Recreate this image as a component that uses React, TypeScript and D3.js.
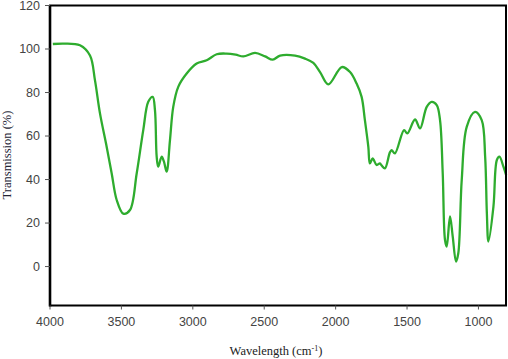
import React from "react";
import * as d3 from "d3";

const wavenumbers = [3980, 3900, 3790, 3720, 3685, 3650, 3603, 3568, 3533, 3487, 3440, 3393, 3347, 3312, 3281, 3265, 3253, 3242, 3218, 3202, 3183, 3160, 3137, 3102, 3043, 2973, 2903, 2833, 2763, 2700, 2646, 2564, 2494, 2440, 2389, 2284, 2214, 2156, 2109, 2051, 1957, 1899, 1853, 1818, 1795, 1771, 1760, 1741, 1713, 1690, 1678, 1655, 1620, 1608, 1585, 1521, 1498, 1444, 1409, 1362, 1327, 1292, 1269, 1250, 1234, 1222, 1199, 1180, 1157, 1141, 1117, 1082, 1024, 977, 953, 941, 930, 895, 871, 853, 825, 806];
const transmission = [102.3, 102.5, 101.7, 97, 85.6, 70.4, 55, 42.8, 30.6, 24.3, 26, 42.8, 62.7, 75.7, 78, 71.9, 50.5, 45.9, 50.5, 48.2, 43.6, 58, 73.4, 82.6, 88.7, 93.3, 94.8, 97.6, 97.9, 97.4, 96.6, 98.2, 96.6, 95.1, 97, 97, 95.6, 93.6, 89.4, 83.7, 91.7, 89.4, 84.1, 78, 67.3, 55, 47.4, 49.7, 46.7, 47.4, 46.5, 45.1, 52.5, 53.5, 52, 62.7, 61.2, 67.6, 63.5, 73.4, 75.7, 74.2, 67.3, 42.8, 12.2, 9.2, 23, 13.8, 2.3, 6.1, 39.8, 64.2, 71.1, 67.3, 50.5, 24.5, 11.5, 27.5, 49, 50.5, 45.9, 42];

const xTicks = [4000, 3500, 3000, 2500, 2000, 1500, 1000];
const yTicks = [0, 20, 40, 60, 80, 100, 120];

export default function App() {
  const W = 508, H = 359;
  const left = 50, right = 507, top = 5.5, bottom = 305.5;
  const x = d3.scaleLinear().domain([4000, 800]).range([left, right]);
  const y = d3.scaleLinear().domain([-17.9, 120]).range([bottom, top]);
  const pts: [number, number][] = wavenumbers.map((w, i) => [w, transmission[i]]);
  const line = d3
    .line<[number, number]>()
    .x((d) => x(d[0]))
    .y((d) => y(d[1]))
    .curve(d3.curveCatmullRom.alpha(0.5));
  const tickFont = "'Liberation Sans', Arial, sans-serif";
  return (
    <div style={{ position: "absolute", left: 0, top: 0 }}>
      <svg width={W} height={H} style={{ display: "block", background: "#fff" }}>
        <path d={line(pts) || ""} fill="none" stroke="#2eac2e" strokeWidth={2.3} strokeLinejoin="round" />
        <rect x={left} y={top} width={right - left - 1} height={bottom - top} fill="none" stroke="#000" strokeWidth={2} />
        <line x1={left} x2={left} y1={top} y2={bottom + 1} stroke="#000" strokeWidth={2.6} />
        {yTicks.map((t) => (
          <g key={t}>
            <line x1={left - 5} x2={left} y1={y(t)} y2={y(t)} stroke="#555" strokeWidth={1} />
            <text x={40} y={y(t)} dy="0.35em" textAnchor="end" fontFamily={tickFont} fontSize={12.5} fill="#444">
              {t}
            </text>
          </g>
        ))}
        {xTicks.map((t) => (
          <g key={t}>
            <line x1={x(t)} x2={x(t)} y1={bottom} y2={bottom + 4} stroke="#555" strokeWidth={1} />
            <text x={x(t)} y={322} dy="0.35em" textAnchor="middle" fontFamily={tickFont} fontSize={12.5} fill="#444">
              {t}
            </text>
          </g>
        ))}
        <text x={276} y={355} textAnchor="middle" fontFamily="'Liberation Serif', 'Times New Roman', serif" fontSize={12.5} fill="#222">
          Wavelength (cm<tspan dy={-4} fontSize={8}>-1</tspan><tspan dy={4}>)</tspan>
        </text>
        <text transform="translate(11,155) rotate(-90)" textAnchor="middle" fontFamily="'Liberation Serif', 'Times New Roman', serif" fontSize={12.5} fill="#223">
          Transmission (%)
        </text>
      </svg>
    </div>
  );
}
